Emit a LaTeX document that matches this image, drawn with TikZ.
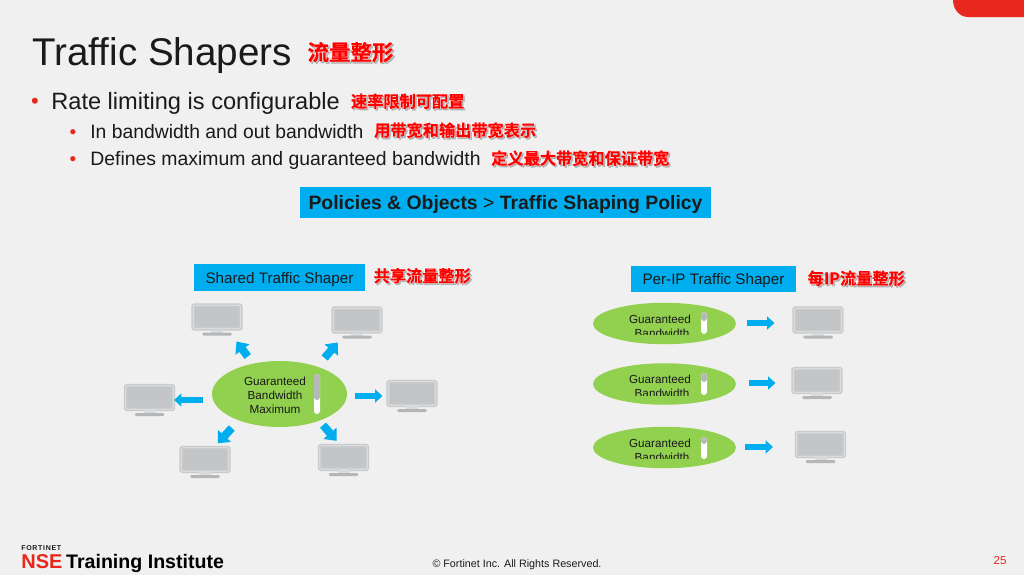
\documentclass[tikz,border=0pt]{standalone}
\usepackage{fontspec}
\setmainfont{Liberation Sans}
\newfontfamily\cjkred[FakeBold=0.7]{Noto Sans CJK SC Bold}
\newfontfamily\cjkhalo[FakeBold=4]{Noto Sans CJK SC Bold}
\usepackage{xcolor}
\usepackage{tikz}
\usetikzlibrary{shapes.geometric, arrows.meta, positioning}
\definecolor{slidebg}{HTML}{F0F0F0}
\definecolor{fortired}{HTML}{E8281E}
\definecolor{boxblue}{HTML}{00AEEF}
\definecolor{leafgreen}{HTML}{92D050}
\definecolor{screengray}{HTML}{C3C5C7}
\definecolor{framegray}{HTML}{C8CACC}
\definecolor{levelgray}{HTML}{B7B8BA}
\definecolor{inkblack}{HTML}{1A1A1A}
\newcommand{\px}[1]{\pgfmathsetmacro\pxsize{#1*0.569}\pgfmathsetmacro\pxleap{#1*0.683}\fontsize{\pxsize}{\pxleap}\selectfont}
% red label with a white rim and a soft shadow
\newcommand{\rimlabel}[1]{\rlap{\kern0.03cm\raisebox{-0.03cm}{\cjkhalo\color{black!30}#1}}\rlap{\cjkhalo\color{white}#1}{\cjkred\color{red}#1}}
% one monitor: screen node plus its stand
\newcommand{\monitor}[3]{
  \node (#1) [screen] at (#2,#3) {};
  \fill [framegray!70!white] ([xshift=-0.12cm]#1.south) rectangle ([xshift=0.12cm,yshift=-0.07cm]#1.south);
  \fill [framegray!90!black, rounded corners=0.03cm] ([xshift=-0.3cm,yshift=-0.06cm]#1.south) rectangle ([xshift=0.3cm,yshift=-0.12cm]#1.south);
}
\begin{document}
\begin{tikzpicture}[x=0.02cm, y=-0.02cm,
    gaugelevel/.style={path picture={\fill [levelgray] (path picture bounding box.north west) rectangle ([yshift=-#1]path picture bounding box.north east);}}]
    \tikzstyle{screen} = [rectangle, rounded corners=0.02cm, minimum width=0.95cm, minimum height=0.47cm, inner sep=0pt, draw=framegray, line width=0.03cm, double=white!55!framegray, double distance=0.012cm, fill=screengray]
    \tikzstyle{shaper} = [ellipse, minimum width=2.7cm, minimum height=1.32cm, inner sep=0pt, fill=leafgreen]
    \tikzstyle{smallshaper} = [ellipse, minimum width=2.86cm, minimum height=0.83cm, inner sep=0pt, fill=leafgreen]
    \tikzstyle{gaugebar} = [rectangle, rounded corners=0.06cm, minimum width=0.12cm, inner sep=0pt, fill=white]
    \tikzstyle{bluebox} = [rectangle, fill=boxblue, text=inkblack, inner sep=0pt, text height=0.22cm, text depth=0pt]
    \tikzstyle{bandtext} = [align=center, text=inkblack, inner sep=0pt, font=\px{11.7}]
    \tikzstyle{cnlabel} = [inner sep=0pt, font=\px{16.2}]
    \tikzstyle{bulletmark} = [text=fortired, inner sep=0pt, font=\px{22}]
    \tikzstyle{bodytext} = [text=inkblack, inner sep=0pt, anchor=west]
    \tikzstyle{arrow} = [boxblue, line width=0.12cm, -{Triangle[length=0.15cm,width=0.26cm]}]
    \tikzstyle{diagarrow} = [boxblue, line width=0.16cm, -{Triangle[length=0.2cm,width=0.34cm]}]

    % Slide
    \fill [slidebg] (0,0) rectangle (1024,575);
    \useasboundingbox (0,0) rectangle (1024,575);
    \fill [fortired] (953,0) -- (1024,0) -- (1024,17) -- (968,17) arc (90:180:15 and 17) -- cycle;

    % Title and bullets
    \node (title) [bodytext, font=\px{38.6}] at (32,56) {Traffic Shapers};
    \node (titlecn) [inner sep=0pt, font=\px{21.5}, right=0.3cm of title, yshift=0.06cm] {\rimlabel{流量整形}};
    \node (rate) [bodytext, font=\px{23.6}] at (51,103) {Rate limiting is configurable};
    \node (ratecn) [cnlabel, right=0.21cm of rate, yshift=0.02cm] {\rimlabel{速率限制可配置}};
    \node (ratemark) [bulletmark] at (35,103) {•};
    \node (inout) [bodytext, font=\px{19.35}] at (90,132) {In bandwidth and out bandwidth};
    \node (inoutcn) [cnlabel, right=0.2cm of inout, yshift=0.02cm] {\rimlabel{用带宽和输出带宽表示}};
    \node (inoutmark) [bulletmark, font=\px{19}] at (73,134) {•};
    \node (maxg) [bodytext, font=\px{19.4}] at (90,160) {Defines maximum and guaranteed bandwidth};
    \node (maxgcn) [cnlabel, right=0.2cm of maxg, yshift=0.02cm] {\rimlabel{定义最大带宽和保证带宽}};
    \node (maxgmark) [bulletmark, font=\px{19}] at (73,161) {•};

    % Menu path
    \node (menu) [bluebox, minimum width=8.22cm, minimum height=0.62cm, text height=0.28cm, font=\px{19.4}] at (505.5,202.5) {\textbf{Policies \& Objects} > \textbf{Traffic Shaping Policy}};

    % Shared shaper
    \node (shared) [bluebox, minimum width=3.42cm, minimum height=0.54cm, font=\px{15.2}] at (279.5,277.5) {Shared Traffic Shaper};
    \node (sharedcn) [cnlabel, right=0.16cm of shared, yshift=0.02cm] {\rimlabel{共享流量整形}};
    \node (center) [shaper] at (279.5,394) {};
    \node (centertext) [bandtext] at (275,395) {Guaranteed\\Bandwidth\\Maximum};
    \node (centergauge) [gaugebar, minimum height=0.8cm, gaugelevel=0.52cm] at (317,394) {};
    \monitor{mona}{217}{317}
    \monitor{monb}{357}{320}
    \monitor{monc}{149.5}{397.5}
    \monitor{mond}{412}{393.5}
    \monitor{mone}{205}{459.5}
    \monitor{monf}{343.5}{457.5}
    \draw [diagarrow, shorten <=0.17cm, shorten >=0.3cm] (center.131.5) -- (mona.310);
    \draw [diagarrow, shorten <=0.22cm, shorten >=0.26cm] (center.36) -- (monb.229);
    \draw [arrow, shorten <=0.18cm, shorten >=0cm] (center.west |- 0,400) -- (monc.east |- 0,400);
    \draw [arrow, shorten <=0.16cm, shorten >=0.1cm] (center.east |- 0,396) -- (mond.west |- 0,396);
    \draw [diagarrow, shorten <=0.2cm, shorten >=0.1cm] (center.213.3) -- (mone.53);
    \draw [diagarrow, shorten <=0.11cm, shorten >=0.11cm] (center.326) -- (monf.105);

    % Per-IP shaper
    \node (perip) [bluebox, minimum width=3.3cm, minimum height=0.52cm, font=\px{15.2}] at (713.5,279) {Per-IP Traffic Shaper};
    \node (peripcn) [cnlabel, right=0.22cm of perip] {\rimlabel{每IP流量整形}};
    \foreach \n/\y/\ty/\cy/\gy/\gl in {a/323.5/319/334.5/323/0.18cm, b/384/379/395.5/384/0.18cm, c/447.5/443/458.5/448/0.14cm} {
        \node (ip\n) [smallshaper] at (664.5,\y) {};
        \node (iptop\n) [bandtext] at (660,\ty) {Guaranteed};
        \begin{scope}
            \clip (600,\cy-10) rectangle (720,\cy);
            \node (ipbottom\n) [bandtext] at (662,\ty+14) {Bandwidth};
        \end{scope}
        \node (ipgauge\n) [gaugebar, minimum height=0.44cm, gaugelevel=\gl] at (704,\gy) {};
    }
    \monitor{ipmona}{818}{320}
    \monitor{ipmonb}{817}{380.5}
    \monitor{ipmonc}{820.5}{444.5}
    \draw [arrow, shorten <=0.22cm, shorten >=0.38cm] (ipa.east |- 0,323) -- (ipmona.west |- 0,323);
    \draw [arrow, shorten <=0.26cm, shorten >=0.34cm] (ipb.east |- 0,383) -- (ipmonb.west |- 0,383);
    \draw [arrow, shorten <=0.18cm, shorten >=0.46cm] (ipc.east |- 0,447) -- (ipmonc.west |- 0,447);

    % Footer
    \node (fortinet) [text=inkblack, inner sep=0pt, anchor=west, font=\bfseries\px{7}\addfontfeature{LetterSpace=10}] at (21,548.5) {FORTINET};
    \node (nse) [text=fortired, inner sep=0pt, anchor=west, font=\bfseries\px{20}] at (21,561.5) {NSE};
    \node (institute) [text=black, inner sep=0pt, font=\bfseries\px{19.6}, base right=0.06cm of nse] {Training Institute};
    \node (rights) [text=inkblack, inner sep=0pt, font=\px{10.75}] at (517,565) {© Fortinet Inc. All Rights Reserved.};
    \node (page) [text=fortired, inner sep=0pt, font=\px{11.5}] at (1000,561) {25};
\end{tikzpicture}
\end{document}
